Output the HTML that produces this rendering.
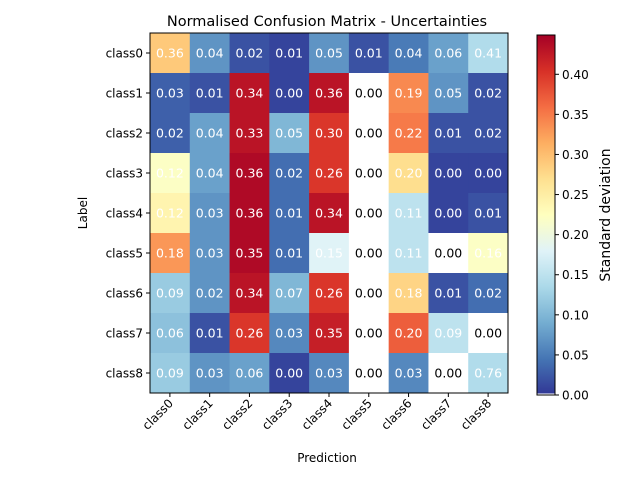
<!DOCTYPE html>
<html><head><meta charset="utf-8"><style>
body{margin:0;background:#fff;}
svg{display:block;font-family:"DejaVu Sans","Liberation Sans",sans-serif;}
</style></head><body>
<svg id="chart" width="640" height="480">
<defs><linearGradient id="cmap" x1="0" y1="1" x2="0" y2="0">
<stop offset="0" stop-color="#313695"/><stop offset="0.1" stop-color="#4575b4"/><stop offset="0.2" stop-color="#74add1"/><stop offset="0.3" stop-color="#abd9e9"/><stop offset="0.4" stop-color="#e0f3f8"/><stop offset="0.5" stop-color="#ffffbf"/><stop offset="0.6" stop-color="#fee090"/><stop offset="0.7" stop-color="#fdae61"/><stop offset="0.8" stop-color="#f46d43"/><stop offset="0.9" stop-color="#d73027"/><stop offset="1" stop-color="#a50026"/>
</linearGradient></defs>
<g id="cells"></g>
<rect x="150" y="33" width="358" height="360" fill="none" stroke="#000" stroke-width="1"/>
<text x="327" y="26" text-anchor="middle" font-size="14.5">Normalised Confusion Matrix - Uncertainties</text>
<text x="327" y="462" text-anchor="middle" font-size="12">Prediction</text>
<text transform="translate(87,213) rotate(-90)" text-anchor="middle" font-size="12">Label</text>
<g id="ticks"></g>
<rect x="537" y="35" width="18" height="360" fill="url(#cmap)"/>
<rect x="537" y="393.5" width="18" height="1.5" fill="#fff"/>
<rect x="537" y="35" width="18" height="360" fill="none" stroke="#000"/>
<g id="cbticks"></g>
<text transform="translate(610,215) rotate(-90)" text-anchor="middle" font-size="14">Standard deviation</text>
</svg>
<script>
const classes=["class0","class1","class2","class3","class4","class5","class6","class7","class8"];
const labels=[
["0.36","0.04","0.02","0.01","0.05","0.01","0.04","0.06","0.41"],
["0.03","0.01","0.34","0.00","0.36","0.00","0.19","0.05","0.02"],
["0.02","0.04","0.33","0.05","0.30","0.00","0.22","0.01","0.02"],
["0.12","0.04","0.36","0.02","0.26","0.00","0.20","0.00","0.00"],
["0.12","0.03","0.36","0.01","0.34","0.00","0.11","0.00","0.01"],
["0.18","0.03","0.35","0.01","0.15","0.00","0.11","0.00","0.16"],
["0.09","0.02","0.34","0.07","0.26","0.00","0.18","0.01","0.02"],
["0.06","0.01","0.26","0.03","0.35","0.00","0.20","0.09","0.00"],
["0.09","0.03","0.06","0.00","0.03","0.00","0.03","0.00","0.76"]];
// colour values (null = white / masked)
const colorVals=[
[0.29,0.07,0.02,0.01,0.07,0.02,0.05,0.08,0.14],
[0.03,0.02,0.43,0.01,0.43,null,0.34,0.07,0.02],
[0.03,0.08,0.43,0.10,0.40,null,0.35,0.02,0.02],
[0.22,0.08,0.44,0.04,0.40,null,0.27,0.01,0.01],
[0.24,0.07,0.44,0.04,0.43,null,0.15,0.01,0.02],
[0.33,0.07,0.44,0.04,0.18,null,0.15,null,0.22],
[0.12,0.07,0.43,0.10,0.40,null,0.28,0.02,0.04],
[0.11,0.02,0.40,0.06,0.42,null,0.37,0.15,null],
[0.12,0.07,0.08,0.01,0.06,null,0.06,null,0.14]];
const cbTicks=[0,0.05,0.1,0.15,0.2,0.25,0.3,0.35,0.4];
const vmax=0.449;
const stops=["#313695","#4575b4","#74add1","#abd9e9","#e0f3f8","#ffffbf","#fee090","#fdae61","#f46d43","#d73027","#a50026"];
function hx(c){return [1,3,5].map(i=>parseInt(c.substr(i,2),16));}
function cmap(v){let t=Math.max(0,Math.min(1,v/vmax))*10;let i=Math.min(9,Math.floor(t));let f=t-i;let a=hx(stops[i]),b=hx(stops[i+1]);return "rgb("+a.map((x,k)=>Math.round(x+(b[k]-x)*f)).join(",")+")";}
const X0=150,Y0=33,CW=358/9,CH=360/9;
const xPos=i=>X0+i*CW, yPos=j=>Y0+j*CH;
const NS="http://www.w3.org/2000/svg";
const cells=document.getElementById("cells");
for(let r=0;r<9;r++)for(let c=0;c<9;c++){
 const v=colorVals[r][c];
 const rect=document.createElementNS(NS,"rect");
 rect.setAttribute("x",xPos(c));rect.setAttribute("y",yPos(r));
 rect.setAttribute("width",CW+0.5);rect.setAttribute("height",CH+0.5);
 rect.setAttribute("fill",v===null?"#fff":cmap(v));
 
 
 cells.appendChild(rect);
 const t=document.createElementNS(NS,"text");
 t.setAttribute("x",xPos(c)+CW/2);t.setAttribute("y",yPos(r)+CH/2+4.5);
 t.setAttribute("text-anchor","middle");t.setAttribute("font-size","12.5");
 t.setAttribute("fill",v===null?"#000":"#fff");
 t.textContent=labels[r][c];
 
 
 cells.appendChild(t);
}
const tk=document.getElementById("ticks");
classes.forEach((n,i)=>{
 const yl=document.createElementNS(NS,"text");
 yl.setAttribute("x",X0-7);yl.setAttribute("y",yPos(i)+CH/2+4.5);
 yl.setAttribute("text-anchor","end");yl.setAttribute("font-size","12");
 yl.textContent=n;
 
 
 tk.appendChild(yl);
 const l=document.createElementNS(NS,"line");
 l.setAttribute("x1",X0-4);l.setAttribute("x2",X0);l.setAttribute("y1",yPos(i)+CH/2);l.setAttribute("y2",yPos(i)+CH/2);l.setAttribute("stroke","#000");
 tk.appendChild(l);
 const l2=document.createElementNS(NS,"line");
 const cx=xPos(i)+CW/2;
 l2.setAttribute("x1",cx);l2.setAttribute("x2",cx);l2.setAttribute("y1",393);l2.setAttribute("y2",397);l2.setAttribute("stroke","#000");
 tk.appendChild(l2);
 const xl=document.createElementNS(NS,"text");
 xl.setAttribute("transform","translate("+(cx+4)+",404) rotate(-45)");
 xl.setAttribute("text-anchor","end");xl.setAttribute("font-size","12");
 xl.textContent=n;
 
 
 tk.appendChild(xl);
});
const cb=document.getElementById("cbticks");
cbTicks.forEach(v=>{
 const y=395-v/vmax*360;
 const l=document.createElementNS(NS,"line");
 l.setAttribute("x1",555);l.setAttribute("x2",559);l.setAttribute("y1",y);l.setAttribute("y2",y);l.setAttribute("stroke","#000");
 cb.appendChild(l);
 const t=document.createElementNS(NS,"text");
 t.setAttribute("x",562);t.setAttribute("y",y+4.5);t.setAttribute("font-size","12");
 t.textContent=v.toFixed(2);
 
 
 cb.appendChild(t);
});
</script>
</body></html>
